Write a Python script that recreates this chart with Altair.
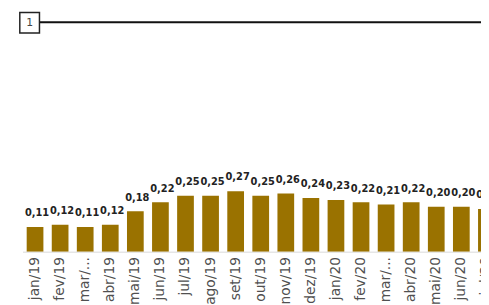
import altair as alt
import pandas as pd

months = ["jan/19", "fev/19", "mar/19", "abr/19", "mai/19", "jun/19", "jul/19",
          "ago/19", "set/19", "out/19", "nov/19", "dez/19", "jan/20", "fev/20",
          "mar/20", "abr/20", "mai/20", "jun/20", "jul/20"]
values = [0.11, 0.12, 0.11, 0.12, 0.18, 0.22, 0.25, 0.25, 0.27, 0.25, 0.26,
          0.24, 0.23, 0.22, 0.21, 0.22, 0.20, 0.20, 0.19]

df = pd.DataFrame({"mes": months, "valor": values})

W = 466.25
H = 245.3
STEP = 25.5

x_enc = alt.X(
    "mes:N",
    sort=months,
    scale=alt.Scale(range=[0, STEP * len(months)], paddingInner=1 / 3, paddingOuter=1 / 6),
    axis=alt.Axis(
        title=None,
        labelAngle=-90,
        labelFont="DejaVu Sans",
        labelFontSize=14,
        labelColor="#505050",
        labelPadding=5,
        ticks=False,
        domainColor="#d9d9d9",
        domainWidth=1,
        labelExpr="indexof(datum.label, 'mar') == 0 ? 'mar/...' : datum.label",
        labelOverlap=False,
    ),
)
y_enc = alt.Y("valor:Q", scale=alt.Scale(domain=[0, H / 228]), axis=None)

bars = alt.Chart(df).mark_bar(color="#9A7200", clip=True).encode(x=x_enc, y=y_enc)

labels = (
    alt.Chart(df)
    .transform_calculate(lab="replace(format(datum.valor, '.2f'), '.', ',')")
    .mark_text(
        font="DejaVu Sans",
        fontWeight="bold",
        fontSize=10,
        color="#222222",
        baseline="alphabetic",
        dy=-11,
        dx=2,
        clip=True,
    )
    .encode(x=x_enc, y=y_enc, text="lab:N")
)

deco = alt.Data(values=[{"t": "1"}])
rule = alt.Chart(deco).mark_rule(color="#111111", strokeWidth=2).encode(
    x=alt.value(17.25), x2=alt.value(W + 10), y=alt.value(12)
)
box = alt.Chart(deco).mark_rect(fill="white", stroke="#222222", strokeWidth=1.5).encode(
    x=alt.value(-2.75), x2=alt.value(17.25), y=alt.value(2), y2=alt.value(23)
)
box_txt = alt.Chart(deco).mark_text(
    font="DejaVu Sans", fontSize=11, color="#444444", align="center", baseline="middle"
).encode(x=alt.value(7.25), y=alt.value(12.5), text="t:N")

chart = (
    alt.layer(bars, labels, rule, box, box_txt)
    .properties(
        width=W,
        height=H,
        autosize=alt.AutoSizeParams(type="none"),
        padding={"left": 14.75, "top": 0, "right": 0, "bottom": 297 - H},
    )
    .configure_view(stroke=None)
)

chart.save("out.html", embed_options={"renderer": "svg", "actions": False})
